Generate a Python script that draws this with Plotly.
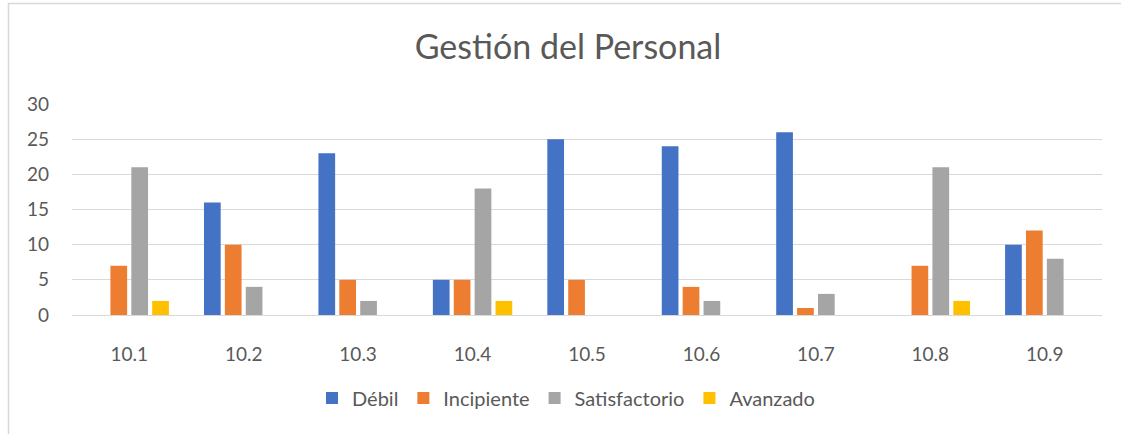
import plotly.graph_objects as go

categories = ["10.1", "10.2", "10.3", "10.4", "10.5", "10.6", "10.7", "10.8", "10.9"]
debil = [0, 16, 23, 5, 25, 24, 26, 0, 10]
incipiente = [7, 10, 5, 5, 5, 4, 1, 7, 12]
satisfactorio = [21, 4, 2, 18, 0, 2, 3, 21, 8]
avanzado = [2, 0, 0, 2, 0, 0, 0, 2, 0]

series = [
    ("Débil", debil, "#4472C4"),
    ("Incipiente", incipiente, "#ED7D31"),
    ("Satisfactorio", satisfactorio, "#A5A5A5"),
    ("Avanzado", avanzado, "#FFC000"),
]

W, H = 1121, 434

fig = go.Figure()
for name, vals, color in series:
    fig.add_trace(go.Bar(x=categories, y=vals, name=name, marker_color=color,
                         marker_line_width=0))

font_family = "Lato, Open Sans, sans-serif"
fig.update_layout(
    width=W, height=H,
    barmode="group", bargap=0.27, bargroupgap=0.2,
    paper_bgcolor="white", plot_bgcolor="white",
    margin=dict(l=72, r=19, t=104, b=119),
    font=dict(family=font_family, color="#595959", size=19),
    title=dict(text="Gestión del Personal", x=568 / W, xref="container", xanchor="center",
               y=1 - 47 / H, yanchor="middle",
               font=dict(size=34, color="#595959", family=font_family)),
    legend=dict(orientation="h", xref="container", yref="container",
                x=566 / W, xanchor="center", y=1 - 398 / H, yanchor="middle",
                font=dict(size=20, color="#595959"), itemwidth=30,
                traceorder="normal"),
    showlegend=True,
)
fig.update_yaxes(range=[0, 30], dtick=5, showgrid=True, gridcolor="#D9D9D9",
                 gridwidth=1, zeroline=True, zerolinecolor="#D9D9D9",
                 zerolinewidth=1, ticks="", ticklabelstandoff=22,
                 tickfont=dict(size=19, color="#595959"))
fig.update_xaxes(showline=True, linecolor="#D9D9D9", linewidth=1, ticks="",
                 ticklabelstandoff=22, tickfont=dict(size=19, color="#595959"))

# chart border (left and top edges visible)
fig.add_shape(type="rect", xref="paper", yref="paper",
              x0=(8.5 - 72) / 1030, x1=1.1, y0=-0.7, y1=(315 - 5) / 210,
              line=dict(color="#D9D9D9", width=1.5), layer="below")

fig.write_html("out.html", config={"displayModeBar": False},
               post_script="document.body.style.margin='0';")
